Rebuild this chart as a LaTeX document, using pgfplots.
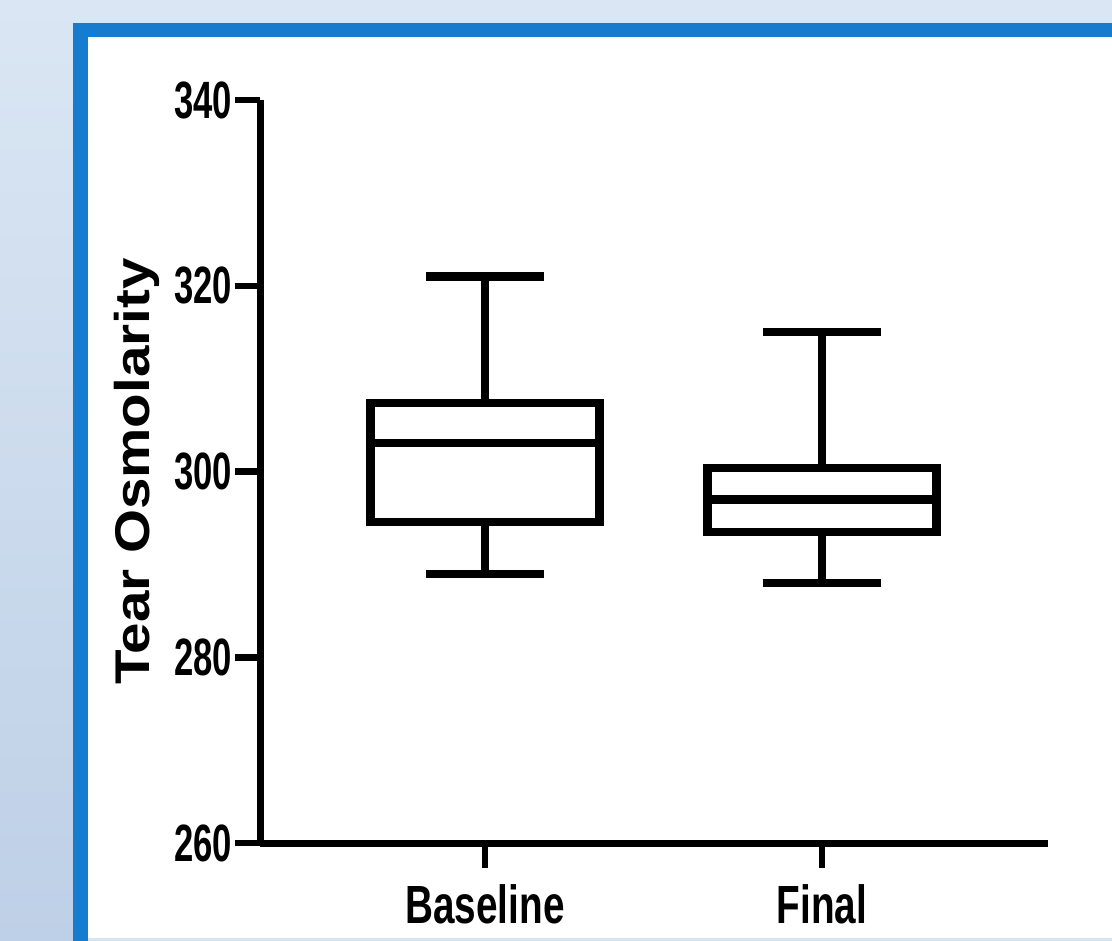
\documentclass[border=0pt]{standalone}
\usepackage{fontspec}
\setmainfont{Liberation Sans}
\newfontfamily\ynarrow{Liberation Sans}[FakeStretch=0.66]
\newfontfamily\xnarrow{Liberation Sans}[FakeStretch=0.72]
\newfontfamily\labwide{Liberation Sans}[FakeStretch=1.16]
\usepackage{pgfplots}
\pgfplotsset{compat=1.18}
\usepgfplotslibrary{statistics}
\definecolor{frameblue}{RGB}{22,124,208}
\definecolor{bgtop}{RGB}{218,230,243}
\definecolor{bgbot}{RGB}{190,208,231}
\definecolor{palebot}{RGB}{214,228,242}
\begin{document}
\begin{tikzpicture}
\path[use as bounding box] (0,0) rectangle (444.8pt,-376pt);
\clip (0,0) rectangle (444.8pt,-376pt);
\shade[top color=bgtop, bottom color=bgbot] (0,0) rectangle (444.8pt,-376pt);
\fill[frameblue] (29.2pt,-9.0pt) rectangle (450pt,-380pt);
\fill[palebot] (35.2pt,-375.2pt) rectangle (450pt,-380pt);
\fill[white] (35.2pt,-14.8pt) rectangle (450pt,-375.2pt);
\begin{axis}[
  at={(104pt,-337.2pt)}, anchor=south west,
  scale only axis, width=315.2pt, height=297.2pt,
  xmin=0.332, xmax=2.671, ymin=260, ymax=340,
  axis x line*=bottom, axis y line*=left,
  axis line style={line width=2.8pt, -},
  every tick/.style={line width=2.6pt, black},
  tick align=outside, major tick length=10pt,
  xtick={1,2}, xticklabels={Baseline,Final},
  ytick={260,280,300,320,340},
  /pgf/number format/assume math mode=true,
  yticklabel style={font=\ynarrow\bfseries\fontsize{21}{21}\selectfont, inner sep=1pt},
  xticklabel style={font=\xnarrow\bfseries\fontsize{21.5}{21.5}\selectfont, yshift=-3pt},
  ylabel={Tear Osmolarity},
  ylabel style={at={(rel axis cs:-0.156,0.5)}, anchor=center, font=\labwide\bfseries\fontsize{19.5}{19.5}\selectfont},
  boxplot/draw direction=y,
  clip=false,
]
\addplot[black, line width=3.3pt, boxplot prepared={draw position=1,
  lower whisker=289.0, lower quartile=294.6, median=303.1,
  upper quartile=307.4, upper whisker=321.0,
  box extend=0.68, whisker extend=0.35}] coordinates {};
\addplot[black, line width=3.3pt, boxplot prepared={draw position=2,
  lower whisker=288.0, lower quartile=293.5, median=297.0,
  upper quartile=300.4, upper whisker=315.0,
  box extend=0.68, whisker extend=0.35}] coordinates {};
\end{axis}
\end{tikzpicture}
\end{document}
